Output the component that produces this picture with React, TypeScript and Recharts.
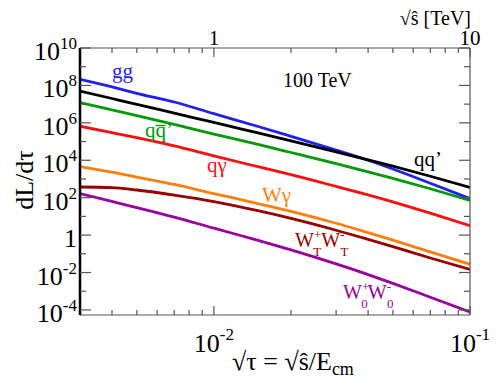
import React from "react";
import { LineChart, Line, XAxis, YAxis } from "recharts";

// sqrt(tau) = sqrt(s_hat)/E_cm
const sqrtTau = [0.003, 0.004, 0.005, 0.007, 0.01, 0.015, 0.02, 0.03, 0.04, 0.05, 0.07, 0.1];
const Ecm = 100; // TeV

// dL/dtau luminosities
const gg = [2.1e8, 8.3e7, 3.8e7, 1.3e7, 3.1e6, 6.2e5, 1.9e5, 3.5e4, 1.0e4, 3.4e3, 590, 89];
const qqp = [5.0e7, 2.0e7, 9.8e6, 3.3e6, 1.05e6, 2.8e5, 1.1e5, 2.8e4, 1.05e4, 4.8e3, 1.4e3, 350];
const qqbarp = [1.2e7, 4.9e6, 2.4e6, 8.3e5, 2.5e5, 6.8e4, 2.6e4, 6.6e3, 2.4e3, 1.07e3, 300, 72];
const qgamma = [6.6e5, 3.0e5, 1.6e5, 5.8e4, 1.7e4, 4.4e3, 1.7e3, 400, 140, 59, 15, 3.2];
const wgamma = [4.6e3, 2.3e3, 1.26e3, 510, 166, 47, 18.6, 4.3, 1.35, 0.54, 0.126, 0.0275];
const wtwt = [372, 347, 257, 138, 62, 19.5, 7.8, 1.82, 0.59, 0.24, 0.06, 0.0145];
const w0w0 = [166, 63, 29.5, 9.1, 2.34, 0.51, 0.162, 0.0288, 0.00776, 0.00263, 0.000479, 7.76e-5];

const xTicks = [0.004, 0.005, 0.006, 0.007, 0.008, 0.009, 0.01, 0.02, 0.03, 0.04, 0.05, 0.06, 0.07, 0.08, 0.09, 0.1];
const topTicks = [0.4, 0.5, 0.6, 0.7, 0.8, 0.9, 1, 2, 3, 4, 5, 6, 7, 8, 9, 10];
const yTicks = [1e-4, 1e-3, 1e-2, 1e-1, 1, 10, 1e2, 1e3, 1e4, 1e5, 1e6, 1e7, 1e8, 1e9, 1e10];

const data = sqrtTau.map((x, i) => ({
  x,
  tev: x * Ecm,
  gg: gg[i],
  qqp: qqp[i],
  qqbarp: qqbarp[i],
  qgamma: qgamma[i],
  wgamma: wgamma[i],
  wtwt: wtwt[i],
  w0w0: w0w0[i],
}));

const FONT = "'Liberation Serif', 'Times New Roman', serif";
const TICK = "#555";

const C = {
  gg: "#1f1ff0",
  qqp: "#000000",
  qqbarp: "#00990a",
  qgamma: "#ff0d0d",
  wgamma: "#ff7f0e",
  wtwt: "#990000",
  w0w0: "#9900a0",
};

const isDecade = (v: number) => Math.abs(Math.log10(v) - Math.round(Math.log10(v))) < 1e-6;

const LeftTick = (props: any) => {
  const { x, y, payload } = props;
  const e = Math.round(Math.log10(payload.value));
  const major = e % 2 === 0;
  return (
    <g>
      <line x1={x} x2={x + (major ? 11 : 6)} y1={y} y2={y} stroke={TICK} strokeWidth={1.2} />
      {major && (
        <text x={x - 3} y={y + 12} textAnchor="end" fontFamily={FONT} fontSize={26} fill="#000">
          {e === 0 ? "1" : (
            <>
              10<tspan fontSize={17} dy={-11}>{e}</tspan>
            </>
          )}
        </text>
      )}
    </g>
  );
};

const RightTick = (props: any) => {
  const { x, y, payload } = props;
  const e = Math.round(Math.log10(payload.value));
  const major = e % 2 === 0;
  return <line x1={x} x2={x - (major ? 11 : 6)} y1={y} y2={y} stroke={TICK} strokeWidth={1.2} />;
};

const BottomTick = (props: any) => {
  const { x, y, payload } = props;
  const v = payload.value;
  const major = isDecade(v);
  const e = Math.round(Math.log10(v));
  return (
    <g>
      <line x1={x} x2={x} y1={y} y2={y - (major ? 9 : 5)} stroke={TICK} strokeWidth={1.2} />
      {major && (
        <text x={x} y={y + 37} textAnchor="middle" fontFamily={FONT} fontSize={26} fill="#000">
          10<tspan fontSize={17} dy={-12}>{e}</tspan>
        </text>
      )}
    </g>
  );
};

const TopTick = (props: any) => {
  const { x, y, payload } = props;
  const v = payload.value;
  const major = isDecade(v);
  return (
    <g>
      <line x1={x} x2={x} y1={y} y2={y + (major ? 9 : 5)} stroke={TICK} strokeWidth={1.2} />
      {major && (
        <text x={x} y={y - 3} textAnchor="middle" fontFamily={FONT} fontSize={21} fill="#000">
          {String(v)}
        </text>
      )}
    </g>
  );
};

const W = 498;
const H = 379;

export default function App() {
  return (
    <div style={{ position: "absolute", left: 0, top: 0, width: W, height: H, background: "#fff" }}>
      <LineChart width={W} height={H} data={data} margin={{ top: 0, right: 0, bottom: 0, left: 0 }}>
        <XAxis
          xAxisId="bottom"
          dataKey="x"
          type="number"
          scale="log"
          domain={[0.003, 0.1]}
          allowDataOverflow
          ticks={xTicks}
          interval={0}
          height={64}
          orientation="bottom"
          tickLine={false}
          tickSize={0}
          tickMargin={0}
          axisLine={{ stroke: TICK, strokeWidth: 1.2 }}
          tick={<BottomTick />}
        />
        <XAxis
          xAxisId="top"
          dataKey="tev"
          type="number"
          scale="log"
          domain={[0.3, 10]}
          allowDataOverflow
          ticks={topTicks}
          interval={0}
          height={48}
          orientation="top"
          tickLine={false}
          tickSize={0}
          tickMargin={0}
          axisLine={{ stroke: TICK, strokeWidth: 1.2 }}
          tick={<TopTick />}
        />
        <YAxis
          yAxisId="left"
          type="number"
          scale="log"
          domain={[5.37e-5, 1e10]}
          allowDataOverflow
          ticks={yTicks}
          interval={0}
          width={80}
          orientation="left"
          tickLine={false}
          tickSize={0}
          tickMargin={0}
          axisLine={{ stroke: "#000", strokeWidth: 2.5 }}
          tick={<LeftTick />}
        />
        <YAxis
          yAxisId="right"
          type="number"
          scale="log"
          domain={[5.37e-5, 1e10]}
          allowDataOverflow
          ticks={yTicks}
          interval={0}
          width={28}
          orientation="right"
          tickLine={false}
          tickSize={0}
          tickMargin={0}
          axisLine={{ stroke: TICK, strokeWidth: 1.2 }}
          tick={<RightTick />}
        />
        {(["gg", "qqp", "qqbarp", "qgamma", "wgamma", "wtwt", "w0w0"] as const).map((k) => (
          <Line
            key={k}
            xAxisId="bottom"
            yAxisId="left"
            dataKey={k}
            type="monotone"
            stroke={C[k]}
            strokeWidth={2.8}
            dot={false}
            isAnimationActive={false}
          />
        ))}
      </LineChart>
      <svg
        width={W}
        height={H}
        style={{ position: "absolute", left: 0, top: 0, pointerEvents: "none" }}
        fontFamily={FONT}
      >
        <text x={471} y={25} textAnchor="end" fontSize={20} fill="#000">√ŝ [TeV]</text>
        <text x={283} y={87} fontSize={20} fill="#000">100 TeV</text>
        <text x={112} y={78} fontSize={21} fill={C.gg}>gg</text>
        <text x={145} y={137} fontSize={21} fill={C.qqbarp}>qq’</text>
        <line x1={155.5} x2={165.5} y1={125.5} y2={125.5} stroke={C.qqbarp} strokeWidth={1.3} />
        <text x={207} y={172} fontSize={21} fill={C.qgamma}>qγ</text>
        <text x={262} y={202} fontSize={21} fill={C.wgamma}>Wγ</text>
        <text x={414} y={166} fontSize={21} fill={C.qqp}>qq’</text>
        <text x={295} y={247} fontSize={20} fill={C.wtwt}>
          W<tspan fontSize={13} dy={-8}>+</tspan>
          <tspan fontSize={13} dx={-8} dy={17}>T</tspan>
          <tspan dy={-9}>W</tspan>
          <tspan fontSize={13} dy={-8}>-</tspan>
          <tspan fontSize={13} dx={-4} dy={17}>T</tspan>
        </text>
        <text x={343} y={299} fontSize={20} fill={C.w0w0}>
          W<tspan fontSize={13} dy={-8}>+</tspan>
          <tspan fontSize={13} dx={-8} dy={17}>0</tspan>
          <tspan dy={-9}>W</tspan>
          <tspan fontSize={13} dy={-8}>-</tspan>
          <tspan fontSize={13} dx={-4} dy={17}>0</tspan>
        </text>
        <text x={24} y={180} fontSize={26} fill="#000" textAnchor="middle" transform="rotate(-90 24 180)" dy={9}>
          dL/dτ
        </text>
        <text x={232} y={370} fontSize={26} fill="#000">
          √τ = √ŝ/E<tspan fontSize={18} dy={5}>cm</tspan>
        </text>
      </svg>
    </div>
  );
}
